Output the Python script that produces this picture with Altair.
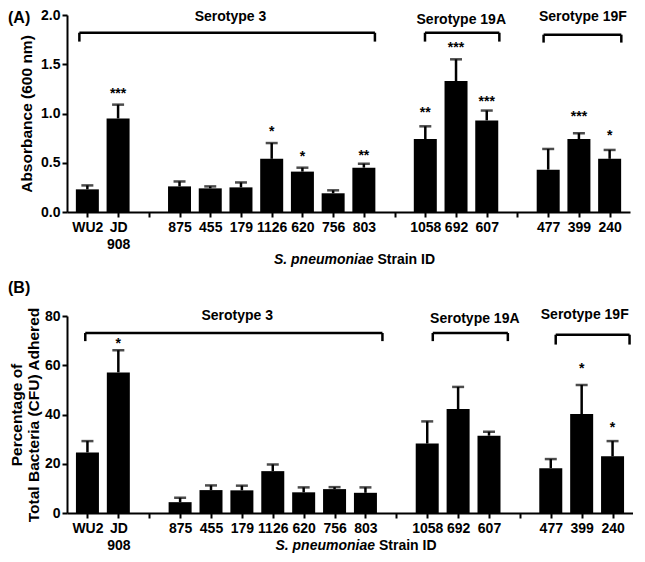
import json
import altair as alt
import pandas as pd

# ---------------- data ----------------
sections = [["WU2", "JD 908"],
            ["875", "455", "179", "1126", "620", "756", "803"],
            ["1058", "692", "607"],
            ["477", "399", "240"]]

absorbance = [0.23, 0.95, 0.26, 0.24, 0.25, 0.54, 0.41, 0.19, 0.45, 0.74, 1.33, 0.93, 0.43, 0.74, 0.54]
absorbance_sem = [0.04, 0.14, 0.05, 0.02, 0.05, 0.16, 0.04, 0.03, 0.04, 0.13, 0.22, 0.10, 0.21, 0.06, 0.09]
absorbance_sig = ["", "***", "", "", "", "*", "*", "", "**", "**", "***", "***", "", "***", "*"]
absorbance_sig_y = [None, 1.23, None, None, None, 0.84, 0.59, None, 0.60, 1.04, 1.70, 1.15, None, 0.99, 0.80]

adhered = [24.6, 57.1, 4.4, 9.3, 9.2, 17.0, 8.4, 9.7, 8.2, 28.2, 42.2, 31.4, 18.2, 40.2, 23.0]
adhered_sem = [4.6, 9.0, 1.8, 1.9, 1.9, 2.7, 2.0, 0.8, 2.2, 9.0, 9.0, 1.6, 3.7, 11.8, 6.2]
adhered_sig = ["", "*", "", "", "", "", "", "", "", "", "", "", "", "*", "*"]
adhered_sig_y = [None, 69.7, None, None, None, None, None, None, None, None, None, None, None, 59.6, 35.9]

serotypes = ["Serotype 3", "Serotype 19A", "Serotype 19F"]
# bracket annotations (data units of each panel)
a_br_x0 = [-0.26, 10.99, 14.85]
a_br_x1 = [9.36, 13.41, 17.38]
a_br_y = [1.82, 1.82, 1.80]
a_br_leg = [1.73, 1.73, 1.72]
a_lab_x = [4.66, 12.17, 16.13]
a_lab_y = [1.975, 1.95, 1.975]

b_br_x0 = [-0.07, 11.18, 15.16]
b_br_x1 = [9.55, 13.61, 17.55]
b_br_y = [73.1, 73.1, 72.4]
b_br_leg = [69.8, 69.8, 68.4]
b_lab_x = [4.85, 12.54, 16.1]
b_lab_y = [80.0, 78.7, 80.4]

# ---------------- slot layout ----------------
pos = []
slot_labels = []
names = []
slot = 0
for i, sec in enumerate(sections):
    if i > 0:
        slot_labels.append("")
        slot += 1
    for s in sec:
        pos.append(slot)
        names.append(s)
        slot_labels.append(s.split(" ") if " " in s else s)
        slot += 1
n_slots = slot

FONT = "Liberation Sans"
label_expr = json.dumps(slot_labels) + "[datum.value]"


def panel(mean, sem, sig, sig_y, ydom, yvals, yfmt, ytitle, title_x,
          br_x0, br_x1, br_y, br_leg, lab_x, lab_y, letter, letter_y,
          width, height, xtitle_dy):
    df = pd.DataFrame({"pos": pos, "strain": names, "mean": mean,
                       "top": [m + s for m, s in zip(mean, sem)],
                       "sig": sig, "sig_y": sig_y})
    xaxis = alt.Axis(values=list(range(n_slots)), labelExpr=label_expr, title=None,
                     tickSize=5, tickWidth=2, tickColor="black", domainWidth=2,
                     domainColor="black", labelFont=FONT, labelFontSize=14,
                     labelFontWeight="bold", labelColor="black", labelPadding=3,
                     labelLineHeight=17, labelOverlap=False, labelBound=False,
                     labelFlush=False, grid=False)
    yaxis = alt.Axis(values=yvals, format=yfmt, title=ytitle, titleFont=FONT,
                     titleFontSize=15.5, titleFontWeight="bold", titleColor="black",
                     titleX=title_x, titleLineHeight=17,
                     tickSize=5, tickWidth=2, tickColor="black", domainWidth=2,
                     domainColor="black", labelFont=FONT, labelFontSize=14,
                     labelFontWeight="bold", labelColor="black", labelPadding=2,
                     grid=False)
    xs = alt.Scale(domain=[-0.5, n_slots - 0.5], nice=False, zero=False)
    ys = alt.Scale(domain=ydom, nice=False)

    def X(f):
        return alt.X(f, type="quantitative", scale=xs, axis=xaxis)

    def Y(f):
        return alt.Y(f, type="quantitative", scale=ys, axis=yaxis)

    base = alt.Chart(df)
    bars = base.mark_bar(size=23, color="black").encode(x=X("pos"), y=Y("mean"))
    err = base.mark_rule(color="black", strokeWidth=2.5).encode(
        x=X("pos"), y=Y("mean"), y2="top:Q")
    cap = base.mark_tick(orient="horizontal", size=12, thickness=2.5, color="black").encode(
        x=X("pos"), y=Y("top"))
    stars = base.transform_filter("datum.sig != ''").mark_text(
        font=FONT, fontSize=14, fontWeight="bold", color="black", dy=3).encode(
        x=X("pos"), y=Y("sig_y"), text="sig:N")

    segs = []
    for a, b, yb, yl in zip(br_x0, br_x1, br_y, br_leg):
        segs.append({"x": a, "x2": b, "y": yb, "y2": yb})
        segs.append({"x": a, "x2": a, "y": yb, "y2": yl})
        segs.append({"x": b, "x2": b, "y": yb, "y2": yl})
    brackets = alt.Chart(pd.DataFrame(segs)).mark_rule(
        color="black", strokeWidth=2.5).encode(
        x=X("x"), x2="x2:Q", y=Y("y"), y2="y2:Q")
    labs = alt.Chart(pd.DataFrame({"lx": lab_x, "ly": lab_y, "t": serotypes})).mark_text(
        font=FONT, fontSize=14, fontWeight="bold", color="black").encode(
        x=X("lx"), y=Y("ly"), text="t:N")

    letter_mark = alt.Chart(pd.DataFrame({"t": [letter]})).mark_text(
        font=FONT, fontSize=16, fontWeight="bold", color="black", align="left",
        baseline="middle").encode(x=alt.value(-59), y=alt.value(letter_y), text="t:N")

    xt1 = alt.Chart(pd.DataFrame({"t": ["S. pneumoniae"]})).mark_text(
        font=FONT, fontSize=14, fontWeight="bold", fontStyle="italic", color="black",
        align="right", baseline="middle").encode(
        x=alt.value(width / 2 + 25), y=alt.value(height + xtitle_dy), text="t:N")
    xt2 = alt.Chart(pd.DataFrame({"t": ["Strain ID"]})).mark_text(
        font=FONT, fontSize=14, fontWeight="bold", color="black",
        align="left", baseline="middle").encode(
        x=alt.value(width / 2 + 29), y=alt.value(height + xtitle_dy), text="t:N")

    return alt.layer(bars, err, cap, stars, brackets, labs, letter_mark, xt1, xt2).properties(
        width=width, height=height)


top = panel(absorbance, absorbance_sem, absorbance_sig, absorbance_sig_y,
            [0, 2], [0, 0.5, 1.0, 1.5, 2.0], ".1f", "Absorbance (600 nm)", -33,
            a_br_x0, a_br_x1, a_br_y, a_br_leg, a_lab_x, a_lab_y, "(A)", 3,
            563, 197, 48)
bottom = panel(adhered, adhered_sem, adhered_sig, adhered_sig_y,
               [0, 80], [0, 20, 40, 60, 80], "d",
               ["Percentage of", "Total Bacteria (CFU) Adhered"], -43,
               b_br_x0, b_br_x1, b_br_y, b_br_leg, b_lab_x, b_lab_y, "(B)", -28,
               566, 197, 33)

chart = alt.vconcat(top, bottom, spacing=13).properties(padding=0).configure_view(
    strokeWidth=0)

chart.save("out.html", embed_options={"renderer": "svg", "actions": False})
